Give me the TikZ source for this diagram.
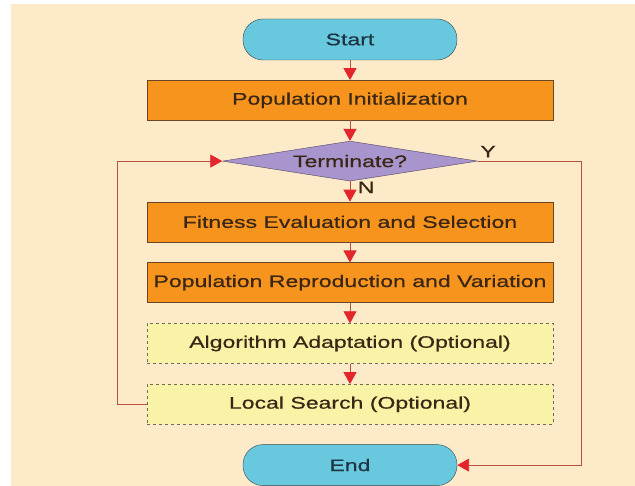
\documentclass[tikz,border=0pt]{standalone}
\usepackage{fontspec}
\setmainfont[FakeStretch=1.38, FakeBold=0.6]{Liberation Sans}
\usetikzlibrary{shapes.geometric, positioning, arrows.meta}

\definecolor{bgbeige}{HTML}{FCEAC8}
\definecolor{termcyan}{HTML}{68C8DE}
\definecolor{termborder}{HTML}{34474C}
\definecolor{termtext}{HTML}{1E3442}
\definecolor{procorange}{HTML}{F7941E}
\definecolor{procborder}{HTML}{6A4526}
\definecolor{proctext}{HTML}{3A2614}
\definecolor{optyellow}{HTML}{F8F3A6}
\definecolor{optborder}{HTML}{6E6A5C}
\definecolor{decpurple}{HTML}{A995CD}
\definecolor{decborder}{HTML}{4E4160}
\definecolor{linered}{HTML}{B8503F}
\definecolor{tipred}{HTML}{E3262B}

\begin{document}
\begin{tikzpicture}[
    x=1pt, y=1pt,
    node distance=60.8pt,
    font=\fontsize{16.7}{20}\selectfont,
    terminal/.style={draw=termborder, fill=termcyan, text=termtext, rounded corners=20pt, minimum width=214pt, minimum height=41pt},
    process/.style={draw=procborder, fill=procorange, text=proctext, inner sep=3pt, minimum width=406pt, minimum height=40pt},
    optional/.style={draw=optborder, dashed, fill=optyellow, text=proctext, inner sep=3pt, minimum width=406pt, minimum height=40pt},
    decision/.style={diamond, draw=decborder, fill=decpurple, text=proctext, aspect=6.4, inner sep=0pt, minimum width=255pt, minimum height=40pt},
    flow/.style={draw=linered, line width=0.9pt, -{Triangle[length=12pt, width=13pt, color=tipred, fill=tipred]}}
]
\useasboundingbox (-350,39.5) rectangle (285,-446.5);
\fill[bgbeige] (-339,35.5) rectangle (285,-446.5);

\node[terminal] (start) at (0,0) {Start};
\node[process, below of=start] (init) {Population Initialization};
\node[decision, below of=init] (term) {Terminate?};
\node[process, below of=term] (fit) {Fitness Evaluation and Selection};
\node[process, below of=fit] (repro) {Population Reproduction and Variation};
\node[optional, below of=repro] (adapt) {Algorithm Adaptation (Optional)};
\node[optional, below of=adapt] (local) {Local Search (Optional)};
\node[terminal, below of=local] (end) {End};

\draw[flow]
    (start) edge (init)
    (init) edge (term)
    (term) edge node[right, pos=0.3, xshift=4pt, text=proctext] {N} (fit)
    (fit) edge (repro)
    (repro) edge (adapt)
    (adapt) edge (local);
\draw[flow] (local.west) -- ++(-29,0) |- (term.west);
\draw[flow] (term.east) -- ++(104,0) node[pos=0.1, above, text=proctext] {Y} |- (end.east);
\end{tikzpicture}
\end{document}
